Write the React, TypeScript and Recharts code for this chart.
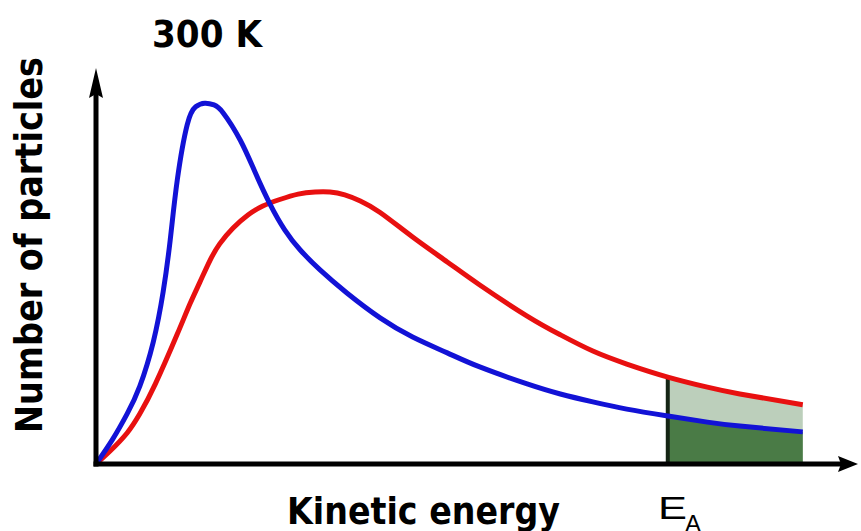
import React from 'react';
import { ComposedChart, Line, Area, XAxis, YAxis, ReferenceLine } from 'recharts';

// Kinetic energy (arbitrary units) and number of particles (arbitrary units)
const blueEnergy = [0, 2.3, 4.4, 6.2, 8.1, 9.5, 10.5, 11.5, 12.9, 14.1, 15.4, 16.7, 18.0, 20.4, 22.5, 24.6, 26.7, 28.9, 31.7, 35.5, 40.2, 44.8, 49.7, 54.3, 61.0, 65.7, 70.3, 75.1, 80.9, 86.5, 91.1, 100];
const blueCount = [0, 6.7, 13.9, 21.6, 33.8, 47.7, 62.1, 78.7, 94.0, 99.0, 100, 99.5, 97.3, 89.8, 80.9, 72.1, 64.9, 59.3, 53.8, 47.4, 40.5, 35.2, 30.8, 26.9, 22.2, 19.4, 17.2, 15.2, 13.3, 11.6, 10.5, 8.9];

const redEnergy = [0, 2.0, 4.4, 6.2, 8.4, 11.5, 13.3, 14.7, 16.1, 17.5, 19.4, 21.5, 23.6, 26.0, 28.6, 31.0, 33.1, 35.2, 37.4, 40.2, 44.8, 49.7, 54.3, 61.0, 65.7, 70.3, 75.1, 80.9, 86.5, 91.1, 100];
const redCount = [0, 3.6, 8.6, 13.9, 22.2, 36.0, 44.4, 50.4, 56.3, 61.0, 65.4, 69.0, 71.5, 73.3, 74.8, 75.4, 75.4, 74.6, 72.9, 69.7, 62.9, 56.0, 49.6, 41.0, 35.8, 31.3, 27.7, 24.1, 21.3, 19.4, 16.4];

const activationEnergy = 80.9;
const xMax = 106.4;
const yMax = 104.2;

const titleText = '300 K';
const xTitle = 'Kinetic energy';
const yTitle = 'Number of particles';

const blueData = blueEnergy.map((e, i) => ({ energy: e, count: blueCount[i] }));
const redData = redEnergy.map((e, i) => ({ energy: e, count: redCount[i] }));
const blueTail = blueData.filter((d) => d.energy >= activationEnergy);
const redTail = redData.filter((d) => d.energy >= activationEnergy);
const redAtEa = redData.find((d) => d.energy === activationEnergy)!.count;

export default function App() {
  return (
    <div style={{ position: 'absolute', left: 0, top: 0, width: 861, height: 531, background: '#fff' }}>
      <ComposedChart width={861} height={531} margin={{ top: 88, right: 13, bottom: 66, left: 95 }}>
        <defs>
          <marker id="arrowX" viewBox="0 0 20 16" markerWidth={20} markerHeight={16} refX={10} refY={8} orient="auto" markerUnits="userSpaceOnUse">
            <path d="M0,0 L20,8 L0,16 L3,8 Z" fill="#000" />
          </marker>
          <marker id="arrowY" viewBox="0 0 30 14" markerWidth={30} markerHeight={14} refX={10} refY={7} orient="auto-start-reverse" markerUnits="userSpaceOnUse">
            <path d="M0,0 L30,7 L0,14 L4,7 Z" fill="#000" />
          </marker>
        </defs>
        <XAxis
          type="number"
          dataKey="energy"
          domain={[0, xMax]}
          allowDataOverflow
          height={1}
          tick={false}
          tickLine={false}
          axisLine={{ stroke: '#000', strokeWidth: 5, strokeLinecap: 'square', markerEnd: 'url(#arrowX)' }}
        />
        <YAxis
          type="number"
          dataKey="count"
          domain={[0, yMax]}
          allowDataOverflow
          width={1}
          tick={false}
          tickLine={false}
          axisLine={{ stroke: '#000', strokeWidth: 5, strokeLinecap: 'square', markerStart: 'url(#arrowY)' }}
        />
        <Area data={redTail} dataKey="count" type="natural" stroke="none" fill="#bccfbb" fillOpacity={1} isAnimationActive={false} />
        <Area data={blueTail} dataKey="count" type="natural" stroke="none" fill="#4a7b46" fillOpacity={1} isAnimationActive={false} />
        <ReferenceLine
          segment={[{ x: activationEnergy, y: 0 }, { x: activationEnergy, y: redAtEa }]}
          stroke="#152515"
          strokeWidth={4}
        />
        <Line data={redData} dataKey="count" type="natural" stroke="#e81010" strokeWidth={5} dot={false} isAnimationActive={false} />
        <Line data={blueData} dataKey="count" type="natural" stroke="#1212d6" strokeWidth={5} dot={false} isAnimationActive={false} />
        <text x={152} y={47} fontFamily="DejaVu Sans" fontWeight="bold" fontSize={37} textLength={110} lengthAdjust="spacingAndGlyphs" fill="#000">{titleText}</text>
        <text x={287} y={524} fontFamily="DejaVu Sans" fontWeight="bold" fontSize={38} textLength={273} lengthAdjust="spacingAndGlyphs" fill="#000">{xTitle}</text>
        <text x={42} y={433} transform="rotate(-90 42 433)" fontFamily="DejaVu Sans" fontWeight="bold" fontSize={37} textLength={376} lengthAdjust="spacingAndGlyphs" fill="#000">{yTitle}</text>
        <text x={658} y={519} fontFamily="Liberation Sans" fontSize={31} textLength={29} lengthAdjust="spacingAndGlyphs" fill="#000">E</text>
        <text x={685} y={532} fontFamily="Liberation Sans" fontSize={24} fill="#000">A</text>
      </ComposedChart>
    </div>
  );
}
